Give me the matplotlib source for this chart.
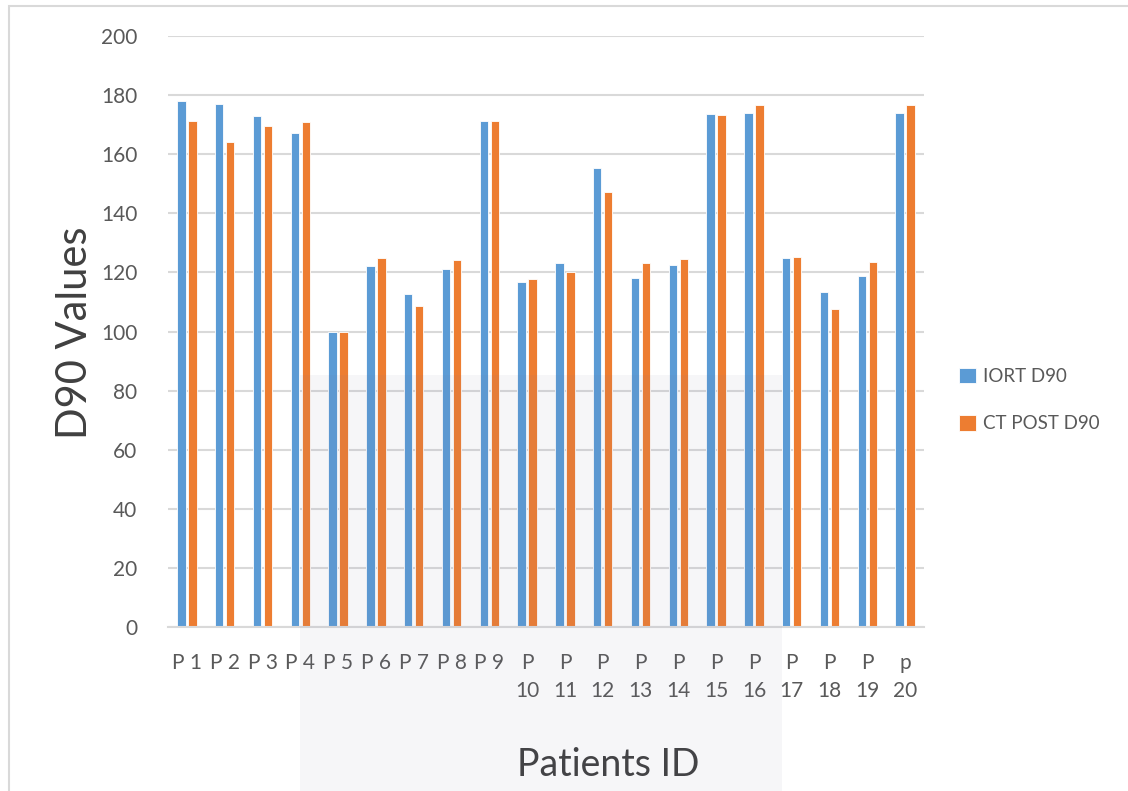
import numpy as np
import matplotlib.pyplot as plt
from matplotlib.patches import Rectangle

plt.rcParams['font.family'] = ['Lato', 'DejaVu Sans']

patients = ["P 1", "P 2", "P 3", "P 4", "P 5", "P 6", "P 7", "P 8", "P 9",
            "P\n10", "P\n11", "P\n12", "P\n13", "P\n14", "P\n15", "P\n16",
            "P\n17", "P\n18", "P\n19", "p\n20"]
iort_d90 = [178.1, 177.1, 173.0, 167.3, 99.9, 122.3, 112.7, 121.2, 171.2, 116.9,
            123.2, 155.4, 118.2, 122.4, 173.6, 173.8, 124.9, 113.5, 118.8, 173.8]
ct_post_d90 = [171.1, 164.1, 169.5, 170.8, 100.0, 124.8, 108.6, 124.2, 171.2, 117.7,
               120.1, 147.3, 123.3, 124.5, 173.4, 176.6, 125.1, 107.5, 123.4, 176.6]

blue = "#5B9BD5"
orange = "#ED7D31"
grid = "#D9D9D9"
txt = "#595959"

fig = plt.figure(figsize=(11.28, 7.91), dpi=100)
ax = fig.add_axes([168/1128, 1-627/791, (924-168)/1128, (627-36)/791])
ax.patch.set_alpha(0)

x = np.arange(len(patients))
w = 0.22
off = 0.145
ax.bar(x - off, iort_d90, w, color=blue, edgecolor="white", linewidth=0.6,
       label="IORT D90", zorder=3)
ax.bar(x + off, ct_post_d90, w, color=orange, edgecolor="white", linewidth=0.6,
       label="CT POST D90", zorder=3)

ax.set_xlim(-0.5, len(patients) - 0.5)
ax.set_ylim(0, 200)
ax.set_yticks(range(0, 201, 20))
ax.yaxis.grid(True, color=grid, linewidth=1.5, zorder=0)
ax.set_axisbelow(True)
for s in ["top", "right", "left"]:
    ax.spines[s].set_visible(False)
ax.spines["bottom"].set_color(grid)
ax.spines["bottom"].set_linewidth(1.5)
ax.spines["bottom"].set_zorder(4)

ax.set_xticks(x)
ax.set_xticklabels(patients, color=txt, fontsize=15, linespacing=1.45, va="top")
ax.tick_params(axis="x", length=0, pad=19)
ax.tick_params(axis="y", length=0, pad=22, labelcolor=txt, labelsize=15)

fig.text(75/1128, 1-333/791, "D90 Values", rotation=90, fontsize=30,
         color="#404040", ha="center", va="center")
fig.text(608/1128, 1-765/791, "Patients ID", fontsize=27,
         color="#404040", ha="center", va="center")

ax.legend(loc="center left", bbox_to_anchor=(953/1128, 1-400/791),
          bbox_transform=fig.transFigure, frameon=False, fontsize=13.5,
          handlelength=0.9, handleheight=0.9, handletextpad=0.4,
          labelspacing=1.6, labelcolor=txt, borderaxespad=0, borderpad=0.3)

# outer chart border
fig.patches.append(Rectangle((9/1128, -0.01), 1.1, 1 - 6/791 + 0.01,
                             transform=fig.transFigure, fill=False,
                             edgecolor=grid, linewidth=1.5, zorder=0))
# faint watermark panel from the scan
fig.patches.append(Rectangle((300/1128, 0), (782-300)/1128, 1 - 375/791,
                             transform=fig.transFigure, facecolor="#7878a0",
                             alpha=0.065, edgecolor="none", zorder=10))

fig.savefig("out.png", dpi=100)
